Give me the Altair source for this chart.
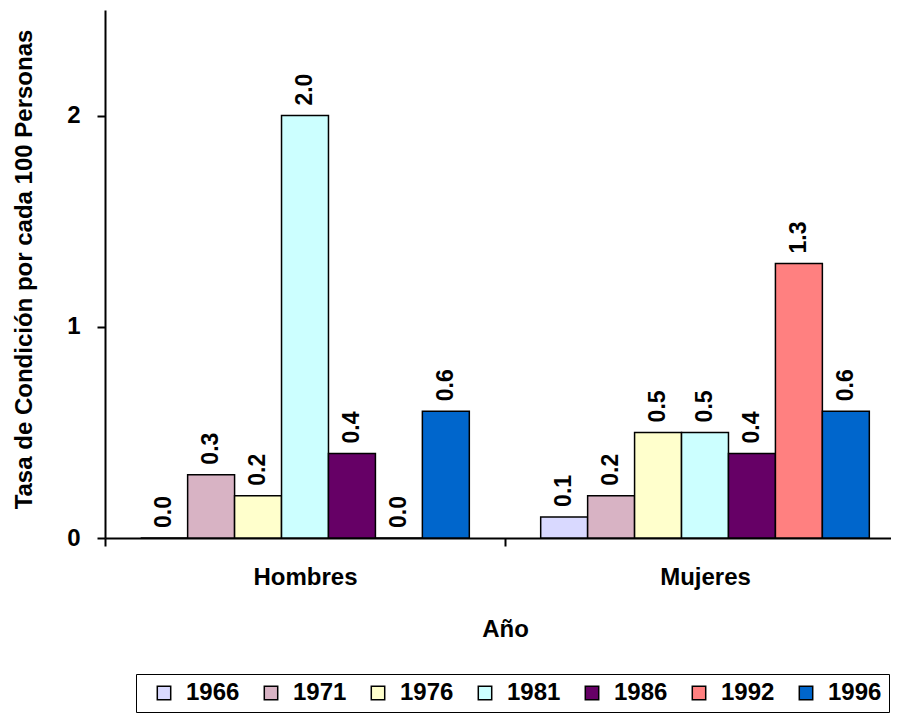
import altair as alt
import pandas as pd

genders = ["Hombres", "Mujeres"]
years = ["1966", "1971", "1976", "1981", "1986", "1992", "1996"]
hombres = [0.0, 0.3, 0.2, 2.0, 0.4, 0.0, 0.6]
mujeres = [0.1, 0.2, 0.5, 0.5, 0.4, 1.3, 0.6]
colors = ["#D9D9FF", "#D8B3C4", "#FFFFCC", "#CCFFFF", "#660066", "#FF8080", "#0066CC"]

rows = []
for g, vals in zip(genders, [hombres, mujeres]):
    for yr, v in zip(years, vals):
        rows.append({"sexo": g, "anio": yr, "tasa": v})
df = pd.DataFrame(rows)

FONT = "Liberation Sans"

x_enc = alt.X(
    "sexo:N",
    sort=genders,
    scale=alt.Scale(paddingInner=0, paddingOuter=0),
    axis=alt.Axis(
        title="Año",
        labelAngle=0,
        tickBand="extent",
        tickSize=8,
        tickWidth=2,
        tickColor="black",
        domainColor="black",
        domainWidth=2,
        labelFont=FONT,
        labelFontSize=24,
        labelFontWeight="bold",
        labelColor="black",
        labelPadding=19,
        titleFont=FONT,
        titleFontSize=24,
        titleFontWeight="bold",
        titleColor="black",
        titlePadding=28,
        titleX=400,
    ),
)

xoff = alt.XOffset("anio:N", sort=years, scale=alt.Scale(paddingInner=0, paddingOuter=0.76))

y_enc = alt.Y(
    "tasa:Q",
    scale=alt.Scale(domain=[0, 2.5], nice=False),
    axis=alt.Axis(
        title="Tasa de Condición por cada 100 Personas",
        values=[0, 1, 2],
        format="d",
        grid=False,
        tickSize=8,
        tickWidth=2,
        tickColor="black",
        domainColor="black",
        domainWidth=2,
        labelFont=FONT,
        labelFontSize=24,
        labelFontWeight="bold",
        labelColor="black",
        labelPadding=17,
        titleFont=FONT,
        titleFontSize=24,
        titleFontWeight="bold",
        titleColor="black",
        titlePadding=30,
        titleY=259,
    ),
)

bars = alt.Chart(df).mark_bar(stroke="black", strokeWidth=1.5).encode(
    x=x_enc,
    xOffset=xoff,
    y=y_enc,
    color=alt.Color(
        "anio:N",
        sort=years,
        scale=alt.Scale(domain=years, range=colors),
        legend=alt.Legend(
            title=None,
            orient="none",
            legendX=31,
            legendY=664,
            direction="horizontal",
            columns=7,
            symbolType="square",
            symbolSize=180,
            symbolStrokeColor="black",
            symbolStrokeWidth=1.5,
            symbolOpacity=1,
            labelFont=FONT,
            labelFontSize=24,
            labelFontWeight="bold",
            labelColor="black",
            labelOffset=10,
            columnPadding=10,
            padding=7,
            symbolOffset=9,
            strokeColor="black",
        ),
    ),
)

labels = alt.Chart(df).mark_text(
    angle=270,
    align="left",
    baseline="middle",
    dx=10,
    font=FONT,
    fontSize=23,
    fontWeight="bold",
    color="black",
).encode(
    x=alt.X("sexo:N", sort=genders),
    xOffset=alt.XOffset("anio:N", sort=years),
    y=alt.Y("tasa:Q"),
    text=alt.Text("tasa:Q", format=".1f"),
)

chart = (
    alt.layer(bars, labels)
    .properties(
        width=800,
        height=528,
        autosize=alt.AutoSizeParams(type="none"),
        padding={"left": 97, "top": 2, "right": -14, "bottom": 176},
        background="white",
    )
    .configure_view(stroke=None)
)

chart.save("out.html", embed_options={"renderer": "svg", "actions": False})
